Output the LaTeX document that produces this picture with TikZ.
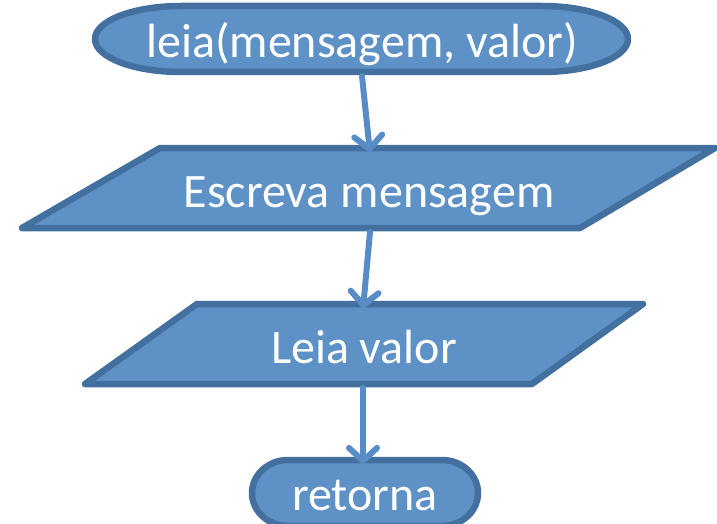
\documentclass[tikz,border=0pt]{standalone}
\usepackage{fontspec}
\setmainfont{Carlito}
\usetikzlibrary{arrows.meta}
\definecolor{boxfill}{RGB}{94,146,199}
\definecolor{boxline}{RGB}{68,112,160}
\definecolor{flowline}{RGB}{88,140,198}
\tikzset{
  shapebox/.style={fill=boxfill, draw=boxline, line width=6.5pt, line join=round},
  boxtext/.style={text=white, font=\fontsize{48}{50}\selectfont, anchor=base, inner sep=0pt},
  flow/.style={draw=flowline, line width=6pt, line cap=round,
    -{Straight Barb[length=13pt,width=28pt,line width=6pt,line cap=round]}}
}
\begin{document}
\begin{tikzpicture}[x=1pt,y=-1pt]
\useasboundingbox (0,0) rectangle (717,524);

% start terminator
\path[shapebox] (181,6) -- (542,6) arc[start angle=-90,end angle=90,x radius=86,y radius=33]
  -- (181,72) arc[start angle=90,end angle=270,x radius=86,y radius=33] -- cycle;
\node[boxtext] (start) at (362,58) {leia(mensagem, valor)};
\coordinate (startout) at (362,76);

% output step
\path[shapebox] (160,148) -- (715,148) -- (580,228) -- (22,228) -- cycle;
\node[boxtext] (write) at (369,207) {Escreva mensagem};
\coordinate (writein) at (370,148);
\coordinate (writeout) at (370,232);

% input step
\path[shapebox] (197,304) -- (643,304) -- (532,384) -- (85,384) -- cycle;
\node[boxtext] (read) at (364,363) {Leia valor};
\coordinate (readin) at (363,304);
\coordinate (readout) at (363,388);

% end terminator
\path[shapebox] (288,460) -- (442,460) arc[start angle=-90,end angle=90,x radius=36,y radius=33]
  -- (288,526) arc[start angle=90,end angle=270,x radius=36,y radius=33] -- cycle;
\node[boxtext] (stop) at (365,510) {retorna};
\coordinate (stopin) at (363,460);

% connectors
\draw[flow] (startout) -- ([yshift=-5pt]writein);
\draw[flow] (writeout) -- ([yshift=-5pt]readin);
\draw[flow] (readout) -- ([yshift=-5pt]stopin);
\end{tikzpicture}
\end{document}
